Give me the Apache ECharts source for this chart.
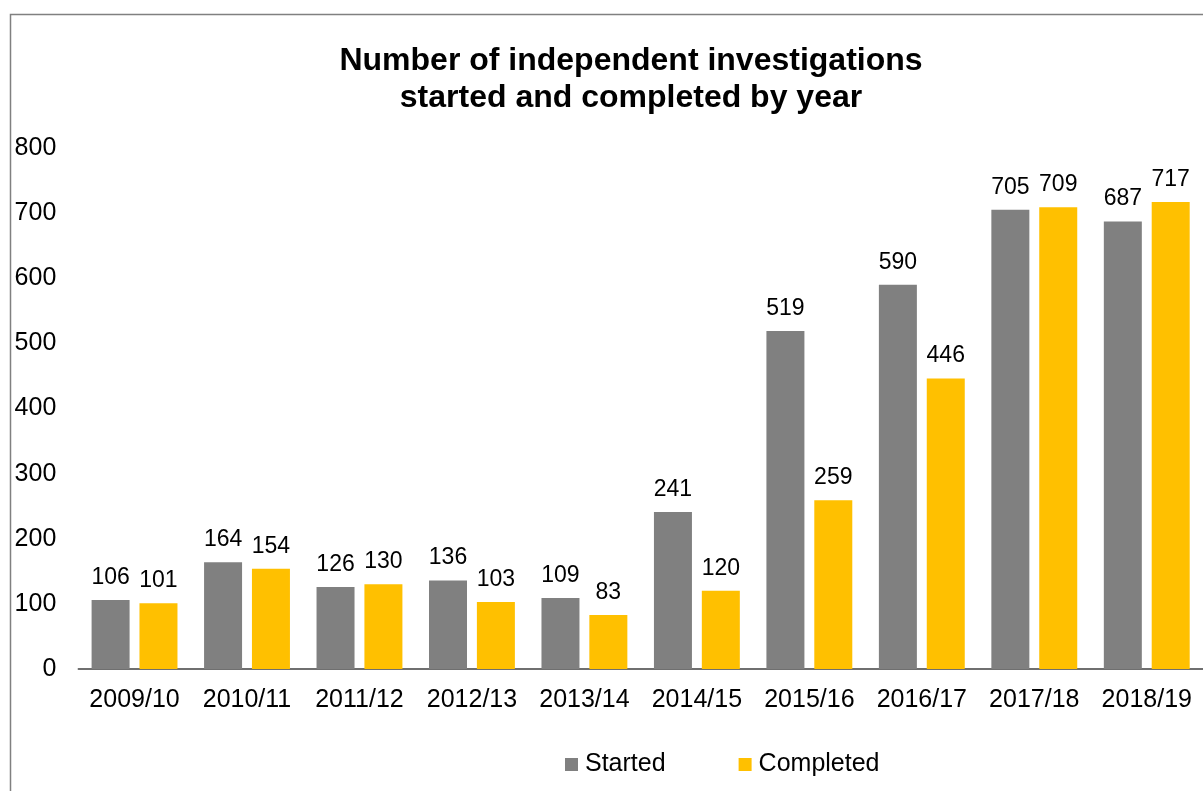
<!DOCTYPE html>
<html><head><meta charset="utf-8">
<script src="https://cdn.jsdelivr.net/npm/echarts@6/dist/echarts.min.js"></script>
<style>html,body{margin:0;padding:0;background:#fff}#c{width:1203px;height:791px}</style>
</head><body><div id="c"></div>
<script>
const categories = ['2009/10','2010/11','2011/12','2012/13','2013/14','2014/15','2015/16','2016/17','2017/18','2018/19'];
const started = [106,164,126,136,109,241,519,590,705,687];
const completed = [101,154,130,103,83,120,259,446,709,717];
const yTicks = {min:0, max:800, interval:100};
const font = '"Liberation Sans", Arial, sans-serif';
const chart = echarts.init(document.getElementById('c'));
chart.setOption({
  animation:false,
  backgroundColor:'#fff',
  graphic:[{type:'rect', shape:{x:10.5,y:14.5,width:1300,height:900}, style:{fill:'none', stroke:'#808080', lineWidth:1.5}, silent:true, z:-1}],
  title:{text:'Number of independent investigations\nstarted and completed by year', left:626, top:38, textAlign:'center',
    textStyle:{fontFamily:font, fontSize:32, fontWeight:'bold', color:'#000', lineHeight:37}},
  legend:{bottom:9, left:560, itemWidth:13, itemHeight:13, itemGap:73, icon:'rect',
    textStyle:{fontFamily:font, fontSize:25, color:'#000', padding:[0,0,0,2]}, data:['Started','Completed']},
  grid:{left:78.3, right:-8.7, top:148, bottom:122, containLabel:false},
  xAxis:{type:'category', data:categories, axisTick:{show:false},
    axisLine:{lineStyle:{color:'#404040', width:1.5}},
    axisLabel:{fontFamily:font, fontSize:25, color:'#000', margin:19, interval:0}},
  yAxis:{type:'value', min:yTicks.min, max:yTicks.max, interval:yTicks.interval, splitLine:{show:false},
    axisLine:{show:false}, axisTick:{show:false},
    axisLabel:{fontFamily:font, fontSize:25, color:'#000', margin:22}},
  series:[
    {name:'Started', type:'bar', data:started, barWidth:38, barGap:'26%', itemStyle:{color:'#808080'},
      label:{show:true, position:'top', distance:11, fontFamily:font, fontSize:23, color:'#000'}},
    {name:'Completed', type:'bar', data:completed, barWidth:38, itemStyle:{color:'#FFC000'},
      label:{show:true, position:'top', distance:11, fontFamily:font, fontSize:23, color:'#000'}}
  ]
});
</script></body></html>
